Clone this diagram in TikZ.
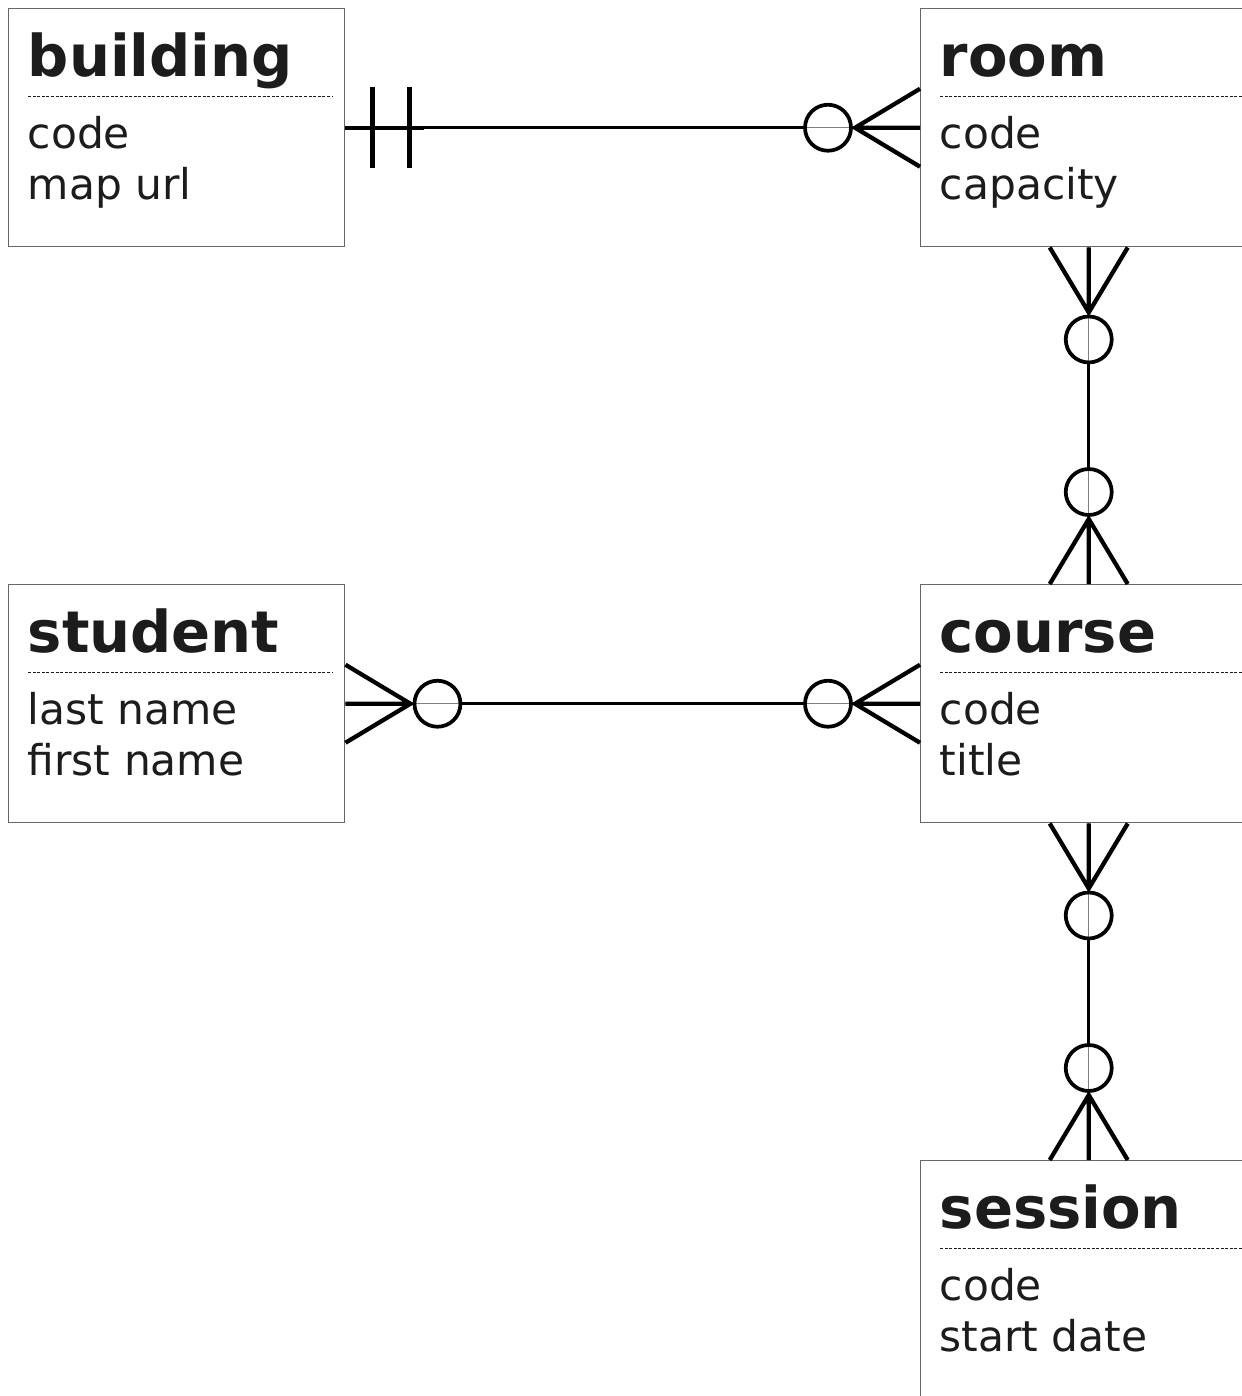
\documentclass[tikz,border=0pt]{standalone}
\usepackage{fontspec}
\setmainfont{DejaVu Sans}
\usetikzlibrary{calc}
\definecolor{txt}{HTML}{1C1C1C}
\definecolor{bord}{HTML}{666666}
\tikzset{
  entbox/.style={draw=bord, line width=1.1pt, fill=white, minimum width=252pt, minimum height=178.5pt, anchor=north west, inner sep=0pt},
  enttitle/.style={anchor=base west, inner sep=0pt, text=txt, font=\fontsize{43.2}{50}\selectfont\bfseries},
  entattr/.style={anchor=base west, inner sep=0pt, text=txt, font=\fontsize{31.8}{38}\selectfont},
  sepline/.style={draw=txt, line width=0.7pt, dash pattern=on 2.25pt off 1.2pt},
  conn/.style={line width=2.5pt},
  hair/.style={line width=0.6pt, draw=gray},
  crowline/.style={line width=3.2pt},
  ring/.style={line width=2.8pt},
  barline/.style={line width=3.4pt},
  pics/crowring/.style={code={
    \draw[crowline] (0,-39) -- (65,0) -- (0,39) (0,0) -- (65,0);
    \draw[ring] (92,0) circle[radius=23];
  }},
  pics/twobars/.style={code={
    \draw[crowline] (0,0) -- (79,0);
    \draw[barline] (27,-41) -- (27,40) (64,-41) -- (64,40);
  }},
}
\newcommand\erentity[6]{%
  \node[entbox] (#1) at (#2,#3) {};
  \node[enttitle] (#1-t) at ($(#1.north west)+(19.5,68)$) {#4};
  \draw[sepline] ($(#1.north west)+(20,88)$) coordinate (#1-s1) -- ($(#1.north west)+(325,88)$) coordinate (#1-s2);
  \node[entattr] (#1-a) at ($(#1.north west)+(19.5,140)$) {#5};
  \node[entattr] (#1-b) at ($(#1.north west)+(19.5,191)$) {#6};
}
\begin{document}
\begin{tikzpicture}[x=0.75pt,y=-0.75pt]
\useasboundingbox (0,0) rectangle (1242,1396);
\clip (0,0) rectangle (1242,1396);
\fill[white] (0,0) rectangle (1242,1396);

\erentity{building}{8}{8}{building}{code}{map url}
\erentity{room}{920}{8}{room}{code}{capacity}
\erentity{student}{8}{584}{student}{last name}{first name}
\erentity{course}{920}{584}{course}{code}{title}
\erentity{session}{920}{1160}{session}{code}{start date}

% building -- room
\draw[hair] (building.east) -- (room.west);
\draw[conn, shorten >=86.25pt] (building.east) -- (room.west);
\path (building.east) pic {twobars};
\path (room.west) pic[rotate=180] {crowring};

% student -- course
\draw[hair] (student.east) -- (course.west);
\draw[conn, shorten <=86.25pt, shorten >=86.25pt] (student.east) -- (course.west);
\path (student.east) pic {crowring};
\path (course.west) pic[rotate=180] {crowring};

% room -- course
\draw[hair] (room.south) -- (course.north);
\draw[conn, shorten <=86.25pt, shorten >=86.25pt] (room.south) -- (course.north);
\path (room.south) pic[rotate=-90] {crowring};
\path (course.north) pic[rotate=90] {crowring};

% course -- session
\draw[hair] (course.south) -- (session.north);
\draw[conn, shorten <=86.25pt, shorten >=86.25pt] (course.south) -- (session.north);
\path (course.south) pic[rotate=-90] {crowring};
\path (session.north) pic[rotate=90] {crowring};
\end{tikzpicture}
\end{document}
